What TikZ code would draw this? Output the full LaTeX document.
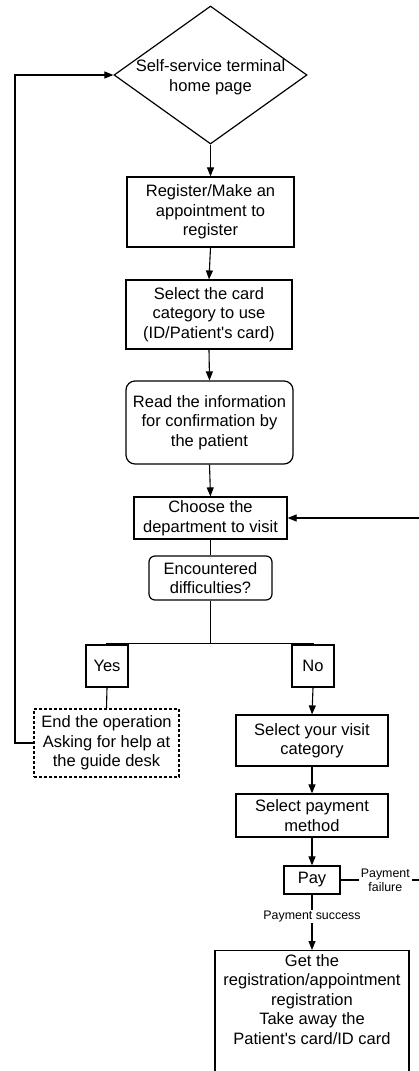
\documentclass[tikz,border=0pt]{standalone}
\usepackage{fontspec}
\newfontfamily\arialf{Liberation Sans}
\usetikzlibrary{arrows.meta,shapes.geometric}
\begin{document}
\begin{tikzpicture}[x=1pt,y=-1pt,
  every node/.style={inner sep=0pt, align=center, font=\arialf\fontsize{16.5}{19.5}\selectfont},
  box/.style={draw, line width=1.2pt},
  rbox/.style={draw, line width=1.2pt, rounded corners=9pt},
  dbox/.style={draw, line width=1.1pt, dash pattern=on 3pt off 2pt},
  conn/.style={line width=1.1pt},
  arr/.style={line width=1.1pt, -{Triangle[length=9pt,width=7pt]}},
  lbl/.style={fill=white, inner xsep=2pt, inner ysep=1pt, font=\arialf\fontsize{12.4}{14}\selectfont}]
\clip (0,0) rectangle (419,1071);
\fill[white] (0,0) rectangle (419,1071);
% nodes
\node[diamond, draw, line width=1.2pt, minimum width=193pt, minimum height=138pt] (home) at (210.5,75) {};
\node (homet) at (210.5,77) {Self-service terminal\\home page};
\node[box, minimum width=167pt, minimum height=70pt] (reg) at (210.5,212) {Register/Make an\\appointment to\\register};
\node[box, minimum width=166pt, minimum height=69pt] (card) at (209,314.5) {Select the card\\category to use\\(ID/Patient's card)};
\node[rbox, minimum width=167pt, minimum height=83pt] (read) at (209.5,422.5) {Read the information\\for confirmation by\\the patient};
\node[box, minimum width=153pt, minimum height=42pt] (dept) at (210.5,518) {Choose the\\department to visit};
\node[rbox, rounded corners=6pt, minimum width=123pt, minimum height=44pt] (diff) at (210.5,578) {Encountered\\difficulties?};
\node[box, minimum width=42pt, minimum height=42pt] (yes) at (107,666) {Yes};
\node[box, minimum width=42pt, minimum height=42pt] (no) at (313,666) {No};
\node[dbox, minimum width=145pt, minimum height=68pt] (endop) at (106.5,743) {End the operation\\Asking for help at\\the guide desk};
\node[box, minimum width=152pt, minimum height=51pt] (visit) at (312,740.5) {Select your visit\\category};
\node[box, minimum width=152pt, minimum height=43pt] (paym) at (312,815.5) {Select payment\\method};
\node[box, minimum width=56pt, minimum height=28pt] (pay) at (312,880) {Pay};
\node[box, anchor=north, minimum width=194pt, minimum height=150pt] (final) at (312,950) {};
\node[anchor=north] (finalt) at (312,954) {Get the\\registration/appointment\\registration\\Take away the\\Patient's card/ID card};
% connectors
\draw[arr] (home.south) -- (reg.north);
\draw[arr] (reg.south) -- (card.north);
\draw[arr] (card.south) -- (read.north);
\draw[arr] (read.south) -- (dept.north);
\draw[conn] (dept.south) -- (diff.north);
\draw[conn] (diff.south) -- ++(0,43) coordinate (split);
\draw[conn] (yes.north) |- (split) -| (no.north);
\draw[conn] (yes.south) -- (endop.north);
\draw[arr] (no.south) -- (visit.north);
\draw[arr] (visit.south) -- (paym.north);
\draw[arr] (paym.south) -- (pay.north);
\coordinate (lx) at (15,0);
\draw[arr] (endop.west) -- (endop.west -| lx) |- (home.west);
\coordinate (rx) at (440,0);
\draw[arr] (pay.east) -- node[lbl, pos=0.45] (fail) {Payment\\failure} (pay.east -| rx) |- (dept.east);
\draw[arr] (pay.south) -- node[lbl, pos=0.4] (succ) {Payment success} (final.north);
\end{tikzpicture}
\end{document}
